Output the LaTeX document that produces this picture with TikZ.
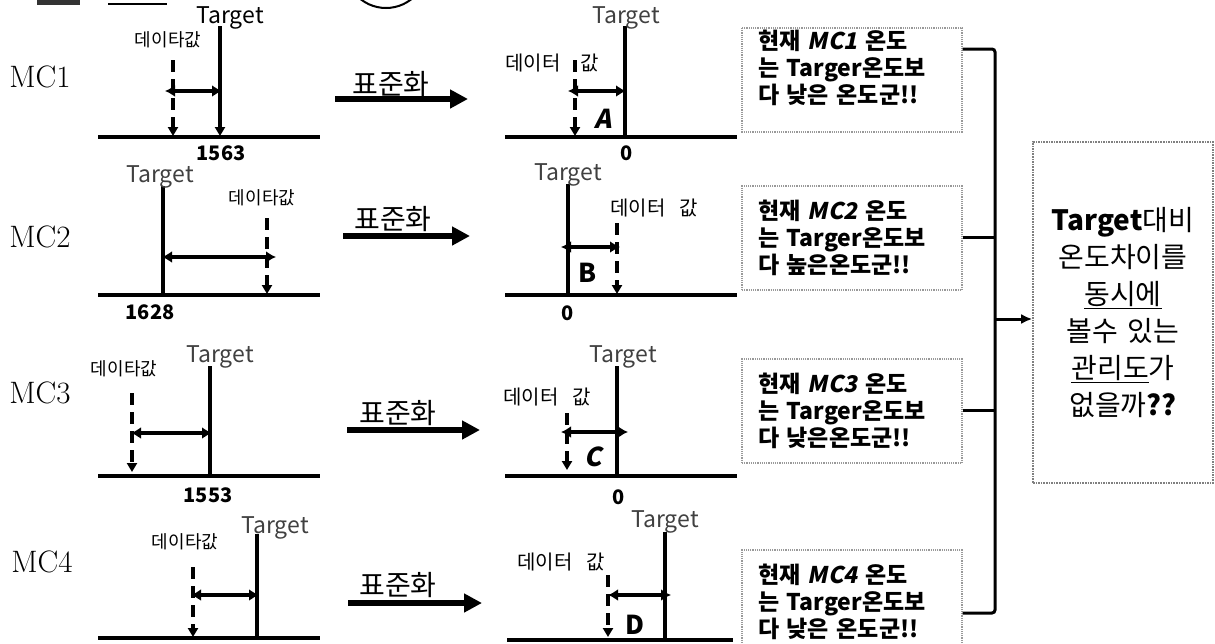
\documentclass[tikz,border=0pt]{standalone}
\usepackage{fontspec}
\newfontfamily\kr{Noto Sans CJK KR}[WordSpace=3]
\newfontfamily\krsl{Noto Sans CJK KR}[FakeSlant=0.2]
\usetikzlibrary{arrows.meta}

\begin{document}
\begin{tikzpicture}[x=1pt,y=-1pt,
    axisline/.style={line width=3.2pt},
    tgtline/.style={line width=3.2pt},
    dataline/.style={line width=3.6pt,dash pattern=on 12pt off 7pt,-{Triangle[length=9pt,width=10pt]}},
    gaparrow/.style={line width=3.4pt,{Latex[length=10pt,width=12pt]}-{Latex[length=10pt,width=12pt]}},
    stdarrow/.style={line width=5.5pt,-{Triangle[length=18pt,width=18pt]}},
    joinline/.style={line width=3pt,rounded corners=3pt},
    memoframe/.style={draw=black!40,densely dotted,line width=1.2pt},
    mclabel/.style={font=\fontsize{31}{31}\selectfont},
    tgtlabel/.style={font=\kr\fontsize{23}{23}\selectfont,text=black!75,inner sep=0pt},
    datalabel/.style={font=\kr\fontsize{18}{18}\selectfont,inner sep=0pt},
    datalabelb/.style={font=\kr\fontsize{20}{20}\selectfont,inner sep=0pt},
    stdlabel/.style={font=\kr\fontsize{28}{28}\selectfont,inner sep=0pt},
    numlabel/.style={font=\kr\bfseries\fontsize{20}{20}\selectfont,inner sep=0pt},
    abcd/.style={font=\kr\bfseries\fontsize{26}{26}\selectfont,inner sep=0pt},
    memobox/.style={memoframe,minimum width=220pt,minimum height=104pt,
        text width=188pt,align=left,font=\kr\bfseries\fontsize{23}{27}\selectfont},
    bigbox/.style={draw=black!50,densely dotted,line width=1.6pt,minimum width=180pt,minimum height=341pt,
        text width=172pt,align=center,font=\kr\fontsize{28}{37}\selectfont}]

    \useasboundingbox (0,0) rectangle (1215,643);

    % pieces cut off at the top edge
    \fill[black!80] (37,0) rectangle (80,5);
    \draw[line width=1.5pt] (108,4) -- (167,4);
    \draw[line width=2pt] (386,-40) ellipse (44pt and 48pt);

    % ---- MC1 ----
    \node[mclabel] (mc1) at (40,77) {MC1};
    \draw[axisline] (98,137) -- (320,137);
    \draw[tgtline,-{Triangle[length=9pt,width=10pt]}] (220,26) -- (220,136);
    \node[tgtlabel,text=black] (tg1) at (230,18) {Target};
    \node[datalabel] (dv1) at (168,40) {데이타값};
    \draw[dataline] (173,60) -- (173,136);
    \draw[gaparrow] (165,91) -- (222,91);
    \node[numlabel] (n1) at (221,153) {1563};

    \node[stdlabel] (s1) at (391,84) {표준화};
    \draw[stdarrow] (335,99) -- (468,99);

    \draw[axisline] (505,137) -- (737,137);
    \draw[tgtline] (625,26) -- (625,137);
    \node[tgtlabel] (tz1) at (626,18) {Target};
    \node[datalabelb] (dz1) at (552,63) {데이터\hspace{20pt}값};
    \draw[dataline] (575,60) -- (575,136);
    \draw[gaparrow] (568,91) -- (626,91);
    \node[abcd] (A) at (603,119) {\krsl A};
    \node[numlabel] (z1) at (627,153) {0};

    % text sits high in this box, so the frame is drawn on its own
    \node[memobox,draw=none] (box1) at (852,68) {현재 {\krsl MC1} 온도\\는 Targer온도보\\다 낮은 온도군!!};
    \draw[memoframe] (742,28) rectangle (962,132);

    % ---- MC2 ----
    \node[mclabel] (mc2) at (40,237) {MC2};
    \draw[axisline] (98,295) -- (320,295);
    \draw[tgtline] (163,186) -- (163,295);
    \node[tgtlabel] (tg2) at (160,177) {Target};
    \node[datalabel] (dv2) at (262,198) {데이타값};
    \draw[dataline] (267,218) -- (267,294);
    \draw[gaparrow] (162,257) -- (276,257);
    \node[numlabel] (n2) at (150,312) {1628};

    \node[stdlabel] (s2) at (393,219) {표준화};
    \draw[stdarrow] (343,236) -- (470,236);

    \draw[axisline] (505,295) -- (737,295);
    \draw[tgtline] (568,184) -- (568,295);
    \node[tgtlabel] (tz2) at (568,175) {Target};
    \node[datalabelb] (dz2) at (654,208) {데이터 값};
    \draw[dataline] (617,223) -- (617,294);
    \draw[gaparrow] (561,247) -- (620,247);
    \node[abcd] (B) at (588,273) {B};
    \node[numlabel] (z2) at (568,313) {0};

    \node[memobox] (box2) at (852,238) {현재 {\krsl MC2} 온도\\는 Targer온도보\\다 높은온도군!!};

    % ---- MC3 ----
    \node[mclabel] (mc3) at (40,393) {MC3};
    \draw[axisline] (98,476) -- (320,476);
    \draw[tgtline] (210,366) -- (210,476);
    \node[tgtlabel] (tg3) at (220,357) {Target};
    \node[datalabel] (dv3) at (124,369) {데이타값};
    \draw[dataline] (132,393) -- (132,472);
    \draw[gaparrow] (131,433) -- (212,433);
    \node[numlabel] (n3) at (208,495) {1553};

    \node[stdlabel] (s3) at (398,413) {표준화};
    \draw[stdarrow] (347,430) -- (480,430);

    \draw[axisline] (505,476) -- (737,476);
    \draw[tgtline] (617,366) -- (617,476);
    \node[tgtlabel] (tz3) at (623,357) {Target};
    \node[datalabelb] (dz3) at (547,397) {데이터 값};
    \draw[dataline] (567,413) -- (567,470);
    \draw[gaparrow] (561,432) -- (628,432);
    \node[abcd] (C) at (593,457) {\krsl C};
    \node[numlabel] (z3) at (619,497) {0};

    \node[memobox] (box3) at (852,411) {현재 {\krsl MC3} 온도\\는 Targer온도보\\다 낮은온도군!!};

    % ---- MC4 ----
    \node[mclabel] (mc4) at (42,562) {MC4};
    \draw[axisline] (98,638) -- (320,638);
    \draw[tgtline] (257,534) -- (257,638);
    \node[tgtlabel] (tg4) at (275,528) {Target};
    \node[datalabel] (dv4) at (185,542) {데이타값};
    \draw[dataline] (193,567) -- (193,637);
    \draw[gaparrow] (191,595) -- (259,595);

    \node[stdlabel] (s4) at (398,585) {표준화};
    \draw[stdarrow] (348,603) -- (482,603);

    \draw[axisline] (507,640) -- (733,640);
    \draw[tgtline] (665,532) -- (665,640);
    \node[tgtlabel] (tz4) at (665,522) {Target};
    \node[datalabelb] (dz4) at (561,562) {데이터 값};
    \draw[dataline] (608,575) -- (608,637);
    \draw[gaparrow] (608,595) -- (671,595);
    \node[abcd] (D) at (635,625) {D};

    \node[memobox] (box4) at (852,602) {현재 {\krsl MC4} 온도\\는 Targer온도보\\다 낮은 온도군!!};

    % ---- summary ----
    \node[bigbox] (goal) at (1123,312.5) {{\bfseries Target}대비\\온도차이를\\\underline{동시에}\\볼수 있는\\\underline{관리도}가\\없을까{\bfseries ??}};

    \coordinate (j1) at (995,49);
    \coordinate (j2) at (995,237);
    \coordinate (j3) at (995,410);
    \coordinate (j4) at (995,613);
    \coordinate (jm) at (995,319);
    \draw[joinline] (box1.east |- j1) -- (j1) -- (j4) -- (box4.east |- j4);
    \draw[joinline] (box2.east |- j2) -- (j2);
    \draw[joinline] (box3.east |- j3) -- (j3);
    \draw[line width=3pt,-{Latex[length=11pt,width=10pt]}] (jm) -- (goal.west |- jm);
\end{tikzpicture}
\end{document}
